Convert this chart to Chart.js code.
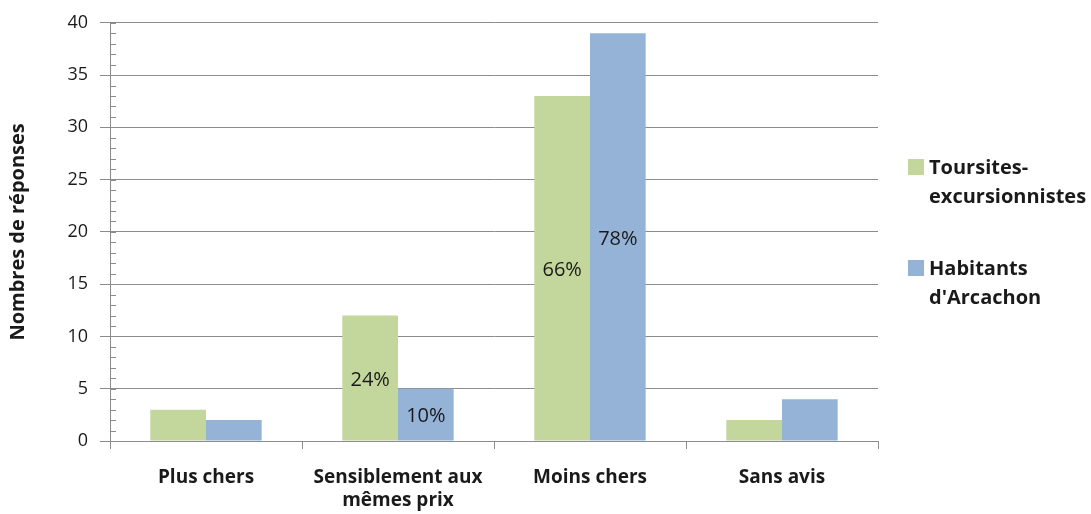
<!DOCTYPE html>
<html>
<head>
<meta charset="utf-8">
<script src="https://cdn.jsdelivr.net/npm/chart.js@4"></script>
<style>
  html, body { margin: 0; padding: 0; background: #ffffff; }
  canvas { display: block; }
</style>
</head>
<body>
<canvas id="answersChart" width="1091" height="514"></canvas>
<script>
const categories = ['Plus chers', ['Sensiblement aux', 'mêmes prix'], 'Moins chers', 'Sans avis'];
const touristValues = [3, 12, 33, 2];
const residentValues = [2, 5, 39, 4];
const touristPercents = ['', '24%', '66%', ''];
const residentPercents = ['', '10%', '78%', ''];
const seriesLegend = [['Toursites-', 'excursionnistes'], ['Habitants', "d'Arcachon"]];
const yTicks = [0, 5, 10, 15, 20, 25, 30, 35, 40];

const colors = {
    green: '#c3d69b',
    blue: '#95b3d7',
    grid: '#8c8c8c',
    text: '#1a1a1a'
};
const fontFamily = '"Open Sans", "DejaVu Sans", sans-serif';

// percent labels drawn in the middle of each bar
const barLabelsPlugin = {
    id: 'barLabels',
    afterDatasetsDraw: function (chart) {
        const ctx = chart.ctx;
        ctx.save();
        ctx.font = '20px ' + fontFamily;
        ctx.fillStyle = colors.text;
        ctx.textAlign = 'center';
        ctx.textBaseline = 'middle';
        chart.data.datasets.forEach(function (ds, i) {
            chart.getDatasetMeta(i).data.forEach(function (bar, j) {
                const text = ds.percents[j];
                if (!text) return;
                ctx.fillText(text, bar.x, (bar.y + bar.base) / 2 + 2);
            });
        });
        ctx.restore();
    }
};

// small inside ticks on the value axis, one per unit
const minorTicksPlugin = {
    id: 'minorTicks',
    afterDraw: function (chart) {
        const y = chart.scales.y;
        const ctx = chart.ctx;
        ctx.save();
        ctx.strokeStyle = colors.grid;
        ctx.lineWidth = 1;
        for (let v = y.min; v <= y.max; v++) {
            const py = Math.round(y.getPixelForValue(v)) + 0.5;
            ctx.beginPath();
            ctx.moveTo(y.right, py);
            ctx.lineTo(y.right + 6, py);
            ctx.stroke();
        }
        ctx.restore();
    }
};

// legend at the right with wrapped names
const sideLegendPlugin = {
    id: 'sideLegend',
    afterDraw: function (chart) {
        const ctx = chart.ctx;
        const left = chart.chartArea.right + 30;
        const tops = [159, 260];
        ctx.save();
        ctx.font = 'bold 20px ' + fontFamily;
        ctx.fillStyle = colors.text;
        ctx.textBaseline = 'middle';
        chart.data.datasets.forEach(function (ds, i) {
            ctx.fillStyle = ds.backgroundColor;
            ctx.fillRect(left, tops[i], 16, 16);
            ctx.fillStyle = colors.text;
            seriesLegend[i].forEach(function (line, k) {
                ctx.fillText(line, left + 21, tops[i] + 9 + k * 29);
            });
        });
        ctx.restore();
    }
};

new Chart(document.getElementById('answersChart'), {
    type: 'bar',
    data: {
        labels: categories,
        datasets: [{
            label: seriesLegend[0].join(''),
            data: touristValues,
            percents: touristPercents,
            backgroundColor: colors.green,
            borderWidth: 0
        }, {
            label: seriesLegend[1].join(' '),
            data: residentValues,
            percents: residentPercents,
            backgroundColor: colors.blue,
            borderWidth: 0
        }]
    },
    options: {
        responsive: false,
        animation: false,
        categoryPercentage: 0.58,
        barPercentage: 1,
        layout: {
            padding: { top: 14, right: 213, bottom: 0, left: 0 }
        },
        plugins: {
            legend: { display: false },
            tooltip: { enabled: false }
        },
        scales: {
            x: {
                grid: {
                    drawOnChartArea: false,
                    drawTicks: true,
                    tickLength: 8,
                    color: colors.grid
                },
                border: { color: colors.grid, width: 1 },
                ticks: {
                    color: colors.text,
                    padding: 17,
                    font: { family: fontFamily, size: 19, weight: 'bold', lineHeight: 1.2 }
                },
                afterFit: function (scale) { scale.height = 73; }
            },
            y: {
                min: 0,
                max: 40,
                afterBuildTicks: function (scale) {
                    scale.ticks = yTicks.map(function (v) { return { value: v }; });
                },
                grid: {
                    color: colors.grid,
                    tickLength: 10
                },
                border: { color: colors.grid, width: 1 },
                ticks: {
                    color: colors.text,
                    padding: 12,
                    font: { family: fontFamily, size: 18 }
                },
                title: {
                    display: true,
                    text: 'Nombres de réponses',
                    color: colors.text,
                    padding: { top: 6, bottom: 8 },
                    font: { family: fontFamily, size: 20, weight: 'bold' }
                },
                afterFit: function (scale) { scale.width = 110; }
            }
        }
    },
    plugins: [barLabelsPlugin, minorTicksPlugin, sideLegendPlugin]
});
</script>
</body>
</html>
